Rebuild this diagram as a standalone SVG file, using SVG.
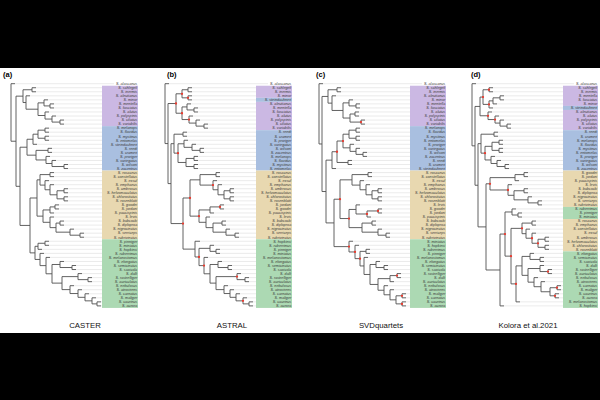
<svg xmlns="http://www.w3.org/2000/svg" xmlns:xlink="http://www.w3.org/1999/xlink" width="600" height="400" viewBox="0 0 600 400">
<style>
.tr{fill:none;stroke:#505050;stroke-width:0.9;vector-effect:non-scaling-stroke}
.ld{fill:none;stroke:#d2d2d2;stroke-width:0.45;vector-effect:non-scaling-stroke}
.pu{fill:#cbb8e3}.bl{fill:#a9bfe0}.ta{fill:#e8d8b0}.gr{fill:#acd9b3}
.lab{font-family:"Liberation Sans",Arial,sans-serif;font-size:3.7px;font-style:italic;fill:#3a3a3a;text-anchor:end}
.pl{font-family:"Liberation Sans",Arial,sans-serif;font-size:7.5px;font-weight:bold;fill:#000}
.cap{font-family:"Liberation Sans",Arial,sans-serif;font-size:7.8px;fill:#111;text-anchor:middle}
</style>
<defs><ellipse id="rd" rx="1.15" ry="0.285" fill="#ea3a2e"/></defs>
<rect width="600" height="400" fill="#000"/>
<rect x="0" y="68" width="600" height="265" fill="#fff"/>

<g id="panel-a">
<text class="pl" x="3" y="76.5">(a)</text>
<g transform="translate(0 83.7) scale(1 4.04)">
<g id="a-boxes"><rect class="pu" x="102" y="0.5" width="36" height="10"/><rect class="bl" x="102" y="10.5" width="36" height="11"/><rect class="ta" x="102" y="21.5" width="36" height="17"/><rect class="gr" x="102" y="38.5" width="36" height="17"/></g>
<path class="ld" d="M15 0H114M36 1H102M36 2H102M30 3H102M48 4H102M54 5H102M54 6H102M49 7H102M56 8H102M64 9H102M64 10H102M49 11H102M49 12H102M49 13H102M49 14H102M37 15H102M52 16H102M52 17H102M50 18H102M56 19H102M68 20H102M68 21H102M54 22H102M54 23H102M49 24H102M54 25H102M68 26H102M68 27H102M68 28H102M68 29H102M59 30H102M59 31H102M54 32H102M54 33H102M64 34H102M64 35H102M74 36H102M84 37H102M84 38H102M49 39H102M49 40H102M42 41H102M44 42H102M50 43H102M64 44H102M76 45H102M76 46H102M82 47H102M92 48H102M92 49H102M74 50H102M82 51H102M89 52H102M96 53H102M101 54H102M101 55H102"/>
<g id="a-connectors"><path class="tr" d="M15 0H11V14.24H16M23 3.08H16V25.4H20M27 15.72H20V35.08H30M37 28.29H30V41.875H35M32 1.5H23V4.66H26M36 1H32V2H36M30 3H26V6.31H38M44 4.75H38V7.875H45M48 4H44V5.5H50M54 5H50V6H54M49 7H45V8.75H52M56 8H52V9.5H60M64 9H60V10H64M33 13.75H27V17.69H36M38 12.5H33V15H37M45 11.5H38V13.5H45M49 11H45V12H49M49 13H45V14H49M48 16.5H36V18.875H46M52 16H48V17H52M50 18H46V19.75H52M56 19H52V20.5H64M68 20H64V21H68M40 23.8H37V32.78H43M50 22.5H40V25.1H45M54 22H50V23H54M49 24H45V26.25H50M54 25H50V27.5H57M64 26.5H57V28.5H64M68 26H64V27H68M68 28H64V29H68M50 31.25H43V34.31H50M55 30.5H50V32H54M59 30H55V31H59M54 33H50V35.625H56M60 34.5H56V36.75H70M64 34H60V35H64M74 36H70V37.5H80M84 37H80V38H84M38 40.25H35V43.5H40M45 39.5H38V41H42M49 39H45V40H49M44 42H40V45.03H46M50 43H46V47.05H52M60 44.75H52V49.36H62M64 44H60V45.5H72M76 45H72V46H76M78 47.75H62V50.97H70M82 47H78V48.5H88M92 48H88V49H92M74 50H70V51.94H78M82 51H78V52.875H85M89 52H85V53.75H92M96 53H92V54.5H97M101 54H97V55H101"/></g>
</g>
<text class="lab"><tspan x="137.2" y="85">S. alascanus</tspan><tspan x="137.2" dy="4.04">S. schlegeli</tspan><tspan x="137.2" dy="4.04">S. inermis</tspan><tspan x="137.2" dy="4.04">S. aleutianus</tspan><tspan x="137.2" dy="4.04">S. minor</tspan><tspan x="137.2" dy="4.04">S. mentella</tspan><tspan x="137.2" dy="4.04">S. fasciatus</tspan><tspan x="137.2" dy="4.04">S. alutus</tspan><tspan x="137.2" dy="4.04">S. polyspinis</tspan><tspan x="137.2" dy="4.04">S. ciliatus</tspan><tspan x="137.2" dy="4.04">S. variabilis</tspan><tspan x="137.2" dy="4.04">S. melanops</tspan><tspan x="137.2" dy="4.04">S. flavidus</tspan><tspan x="137.2" dy="4.04">S. mystinus</tspan><tspan x="137.2" dy="4.04">S. entomelas</tspan><tspan x="137.2" dy="4.04">S. steindachneri</tspan><tspan x="137.2" dy="4.04">S. reedi</tspan><tspan x="137.2" dy="4.04">S. crameri</tspan><tspan x="137.2" dy="4.04">S. proriger</tspan><tspan x="137.2" dy="4.04">S. variegatus</tspan><tspan x="137.2" dy="4.04">S. wilsoni</tspan><tspan x="137.2" dy="4.04">S. zacentrus</tspan><tspan x="137.2" dy="4.04">S. rosaceus</tspan><tspan x="137.2" dy="4.04">S. constellatus</tspan><tspan x="137.2" dy="4.04">S. exsul</tspan><tspan x="137.2" dy="4.04">S. emphaeus</tspan><tspan x="137.2" dy="4.04">S. umbrosus</tspan><tspan x="137.2" dy="4.04">S. helvomaculatus</tspan><tspan x="137.2" dy="4.04">S. chlorostictus</tspan><tspan x="137.2" dy="4.04">S. rosenblatti</tspan><tspan x="137.2" dy="4.04">S. goodei</tspan><tspan x="137.2" dy="4.04">S. jordani</tspan><tspan x="137.2" dy="4.04">S. paucispinis</tspan><tspan x="137.2" dy="4.04">S. levis</tspan><tspan x="137.2" dy="4.04">S. babcocki</tspan><tspan x="137.2" dy="4.04">S. diploproa</tspan><tspan x="137.2" dy="4.04">S. nigrocinctus</tspan><tspan x="137.2" dy="4.04">S. serriceps</tspan><tspan x="137.2" dy="4.04">S. rubrivinctus</tspan><tspan x="137.2" dy="4.04">S. pinniger</tspan><tspan x="137.2" dy="4.04">S. miniatus</tspan><tspan x="137.2" dy="4.04">S. hopkinsi</tspan><tspan x="137.2" dy="4.04">S. ruberrimus</tspan><tspan x="137.2" dy="4.04">S. melanostomus</tspan><tspan x="137.2" dy="4.04">S. elongatus</tspan><tspan x="137.2" dy="4.04">S. semicinctus</tspan><tspan x="137.2" dy="4.04">S. saxicola</tspan><tspan x="137.2" dy="4.04">S. dalli</tspan><tspan x="137.2" dy="4.04">S. rastrelliger</tspan><tspan x="137.2" dy="4.04">S. auriculatus</tspan><tspan x="137.2" dy="4.04">S. nebulosus</tspan><tspan x="137.2" dy="4.04">S. atrovirens</tspan><tspan x="137.2" dy="4.04">S. carnatus</tspan><tspan x="137.2" dy="4.04">S. maliger</tspan><tspan x="137.2" dy="4.04">S. caurinus</tspan><tspan x="137.2" dy="4.04">S. aurora</tspan></text>
<text class="cap" x="85" y="328.3">CASTER</text>
</g>

<g id="panel-b">
<text class="pl" x="167" y="76.5">(b)</text>
<g transform="translate(0 83.7) scale(1 4.04)">
<g id="b-boxes"><rect class="pu" x="256" y="0.5" width="36" height="3"/><rect class="bl" x="256" y="3.5" width="36" height="1"/><rect class="pu" x="256" y="4.5" width="36" height="7"/><rect class="bl" x="256" y="11.5" width="36" height="10"/><rect class="ta" x="256" y="21.5" width="36" height="17"/><rect class="gr" x="256" y="38.5" width="36" height="17"/></g>
<path class="ld" d="M169 0H268M192 1H256M192 2H256M192 3H256M192 4H256M191 5H256M198 6H256M198 7H256M193 8H256M200 9H256M208 10H256M208 11H256M187 12H256M187 13H256M188 14H256M196 15H256M204 16H256M204 17H256M198 18H256M198 19H256M198 20H256M198 21H256M220 22H256M220 23H256M217 24H256M222 25H256M234 26H256M234 27H256M234 28H256M234 29H256M224 30H256M224 31H256M214 32H256M210 33H256M226 34H256M226 35H256M230 36H256M239 37H256M239 38H256M200 39H256M214 40H256M220 41H256M220 42H256M208 43H256M222 44H256M232 45H256M232 46H256M241 47H256M249 48H256M249 49H256M228 50H256M234 51H256M240 52H256M247 53H256M253 54H256M253 55H256"/>
<g id="b-connectors"><path class="tr" d="M169 0H165V14.82H168M176 4.905H168V24.73H171M174 14.845H171V34.62H183M183 12.5H174V17.19H178M187 12H183V13H187M184 14.875H178V19.5H186M188 14H184V15.75H192M196 15H192V16.5H200M204 16H200V17H204M194 18.5H186V20.5H194M198 18H194V19H198M198 20H194V21H198M182 2.5H176V7.31H182M188 1.5H182V3.5H188M192 1H188V2H192M192 3H188V4H192M187 5.75H182V8.875H189M191 5H187V6.5H194M198 6H194V7H198M193 8H189V9.75H196M200 9H196V10.5H204M208 10H204V11H208M190 28.29H183V40.945H195M200 23.8H190V32.78H199M216 22.5H200V25.1H213M220 22H216V23H220M217 24H213V26.25H218M222 25H218V27.5H224M230 26.5H224V28.5H230M234 26H230V27H234M234 28H230V29H234M210 31.25H199V34.31H206M220 30.5H210V32H214M224 30H220V31H224M210 33H206V35.625H213M222 34.5H213V36.75H226M226 34H222V35H226M230 36H226V37.5H235M239 37H235V38H239M200 39H195V42.89H199M210 40.75H199V45.03H204M214 40H210V41.5H216M220 41H216V42H220M208 43H204V47.05H210M218 44.75H210V49.36H216M222 44H218V45.5H228M232 45H228V46H232M237 47.75H216V50.97H224M241 47H237V48.5H245M249 48H245V49H249M228 50H224V51.94H230M234 51H230V52.875H236M240 52H236V53.75H243M247 53H243V54.5H249M253 54H249V55H253"/></g>
<g id="b-support"><use href="#rd" x="176" y="4.905"/><use href="#rd" x="182" y="2.5"/><use href="#rd" x="188" y="3.5"/><use href="#rd" x="182" y="7.31"/><use href="#rd" x="189" y="8.875"/><use href="#rd" x="178" y="17.19"/><use href="#rd" x="183" y="34.62"/><use href="#rd" x="190" y="28.29"/><use href="#rd" x="213" y="25.1"/><use href="#rd" x="220" y="30.5"/><use href="#rd" x="199" y="32.78"/><use href="#rd" x="199" y="42.89"/><use href="#rd" x="204" y="45.03"/><use href="#rd" x="237" y="47.75"/><use href="#rd" x="243" y="53.75"/></g>
</g>
<text class="lab"><tspan x="291.2" y="85">S. alascanus</tspan><tspan x="291.2" dy="4.04">S. schlegeli</tspan><tspan x="291.2" dy="4.04">S. inermis</tspan><tspan x="291.2" dy="4.04">S. minor</tspan><tspan x="291.2" dy="4.04">S. steindachneri</tspan><tspan x="291.2" dy="4.04">S. aleutianus</tspan><tspan x="291.2" dy="4.04">S. mentella</tspan><tspan x="291.2" dy="4.04">S. fasciatus</tspan><tspan x="291.2" dy="4.04">S. alutus</tspan><tspan x="291.2" dy="4.04">S. polyspinis</tspan><tspan x="291.2" dy="4.04">S. ciliatus</tspan><tspan x="291.2" dy="4.04">S. variabilis</tspan><tspan x="291.2" dy="4.04">S. reedi</tspan><tspan x="291.2" dy="4.04">S. crameri</tspan><tspan x="291.2" dy="4.04">S. proriger</tspan><tspan x="291.2" dy="4.04">S. variegatus</tspan><tspan x="291.2" dy="4.04">S. wilsoni</tspan><tspan x="291.2" dy="4.04">S. zacentrus</tspan><tspan x="291.2" dy="4.04">S. melanops</tspan><tspan x="291.2" dy="4.04">S. flavidus</tspan><tspan x="291.2" dy="4.04">S. mystinus</tspan><tspan x="291.2" dy="4.04">S. entomelas</tspan><tspan x="291.2" dy="4.04">S. rosaceus</tspan><tspan x="291.2" dy="4.04">S. constellatus</tspan><tspan x="291.2" dy="4.04">S. exsul</tspan><tspan x="291.2" dy="4.04">S. emphaeus</tspan><tspan x="291.2" dy="4.04">S. umbrosus</tspan><tspan x="291.2" dy="4.04">S. helvomaculatus</tspan><tspan x="291.2" dy="4.04">S. chlorostictus</tspan><tspan x="291.2" dy="4.04">S. rosenblatti</tspan><tspan x="291.2" dy="4.04">S. jordani</tspan><tspan x="291.2" dy="4.04">S. goodei</tspan><tspan x="291.2" dy="4.04">S. paucispinis</tspan><tspan x="291.2" dy="4.04">S. levis</tspan><tspan x="291.2" dy="4.04">S. babcocki</tspan><tspan x="291.2" dy="4.04">S. diploproa</tspan><tspan x="291.2" dy="4.04">S. nigrocinctus</tspan><tspan x="291.2" dy="4.04">S. serriceps</tspan><tspan x="291.2" dy="4.04">S. rubrivinctus</tspan><tspan x="291.2" dy="4.04">S. hopkinsi</tspan><tspan x="291.2" dy="4.04">S. ruberrimus</tspan><tspan x="291.2" dy="4.04">S. pinniger</tspan><tspan x="291.2" dy="4.04">S. miniatus</tspan><tspan x="291.2" dy="4.04">S. melanostomus</tspan><tspan x="291.2" dy="4.04">S. elongatus</tspan><tspan x="291.2" dy="4.04">S. semicinctus</tspan><tspan x="291.2" dy="4.04">S. saxicola</tspan><tspan x="291.2" dy="4.04">S. dalli</tspan><tspan x="291.2" dy="4.04">S. rastrelliger</tspan><tspan x="291.2" dy="4.04">S. auriculatus</tspan><tspan x="291.2" dy="4.04">S. nebulosus</tspan><tspan x="291.2" dy="4.04">S. atrovirens</tspan><tspan x="291.2" dy="4.04">S. carnatus</tspan><tspan x="291.2" dy="4.04">S. maliger</tspan><tspan x="291.2" dy="4.04">S. caurinus</tspan><tspan x="291.2" dy="4.04">S. aurora</tspan></text>
<text class="cap" x="232" y="328.3">ASTRAL</text>
</g>

<g id="panel-c">
<text class="pl" x="316" y="76.5">(c)</text>
<g transform="translate(0 83.7) scale(1 4.04)">
<g id="c-boxes"><rect class="pu" x="410" y="0.5" width="36" height="10"/><rect class="bl" x="410" y="10.5" width="36" height="11"/><rect class="ta" x="410" y="21.5" width="36" height="17"/><rect class="gr" x="410" y="38.5" width="36" height="17"/></g>
<path class="ld" d="M323 0H422M341 1H410M341 2H410M336 3H410M353 4H410M360 5H410M360 6H410M359 7H410M359 8H410M365 9H410M365 10H410M360 11H410M360 12H410M360 13H410M360 14H410M354 15H410M360 16H410M367 17H410M367 18H410M352 19H410M352 20H410M336 21H410M372 22H410M372 23H410M364 24H410M370 25H410M382 26H410M382 27H410M382 28H410M382 29H410M360 30H410M382 31H410M382 32H410M371 33H410M376 34H410M376 35H410M382 36H410M390 37H410M390 38H410M353 39H410M359 40H410M370 41H410M370 42H410M368 43H410M380 44H410M388 45H410M388 46H410M401 47H410M401 48H410M394 49H410M388 50H410M394 51H410M406 52H410M406 53H410M406 54H410M406 55H410"/>
<g id="c-connectors"><path class="tr" d="M323 0H319V14.92H322M328 3.155H322V26.69H326M332 18.92H326V34.46H334M337 1.5H328V4.81H332M341 1H337V2H341M336 3H332V6.625H343M349 4.75H343V8.5H350M353 4H349V5.5H356M360 5H356V6H360M355 7.5H350V9.5H361M359 7H355V8H359M365 9H361V10H365M337 16.84H332V21H336M343 14.19H337V19.5H348M352 19H348V20H352M349 12.5H343V15.875H350M356 11.5H349V13.5H356M360 11H356V12H360M360 13H356V14H360M354 15H350V16.75H356M360 16H356V17.5H363M367 17H363V18H367M340 28.59H334V40.325H349M352 23.8H340V33.375H349M368 22.5H352V25.1H360M372 22H368V23H372M364 24H360V26.25H366M370 25H366V27.5H372M378 26.5H372V28.5H378M382 26H378V27H382M382 28H378V29H382M356 31.125H349V35.625H362M360 30H356V32.25H367M378 31.5H367V33H371M382 31H378V32H382M372 34.5H362V36.75H378M376 34H372V35H376M382 36H378V37.5H386M390 37H386V38H390M353 39H349V41.65H355M359 40H355V43.3H360M366 41.5H360V45.11H364M370 41H366V42H370M368 43H364V47.22H370M376 44.75H370V49.69H378M380 44H376V45.5H384M388 45H384V46H388M390 48.25H378V51.125H384M397 47.5H390V49H394M401 47H397V48H401M388 50H384V52.25H390M394 51H390V53.5H396M402 52.5H396V54.5H402M406 52H402V53H406M406 54H402V55H406"/></g>
<g id="c-support"><use href="#rd" x="361" y="9.5"/><use href="#rd" x="343" y="14.19"/><use href="#rd" x="337" y="16.84"/><use href="#rd" x="340" y="28.59"/><use href="#rd" x="349" y="33.375"/><use href="#rd" x="367" y="32.25"/><use href="#rd" x="378" y="31.5"/><use href="#rd" x="349" y="40.325"/><use href="#rd" x="355" y="41.65"/><use href="#rd" x="360" y="43.3"/><use href="#rd" x="397" y="47.5"/><use href="#rd" x="402" y="52.5"/><use href="#rd" x="402" y="54.5"/></g>
</g>
<text class="lab"><tspan x="445.2" y="85">S. alascanus</tspan><tspan x="445.2" dy="4.04">S. schlegeli</tspan><tspan x="445.2" dy="4.04">S. inermis</tspan><tspan x="445.2" dy="4.04">S. aleutianus</tspan><tspan x="445.2" dy="4.04">S. minor</tspan><tspan x="445.2" dy="4.04">S. mentella</tspan><tspan x="445.2" dy="4.04">S. fasciatus</tspan><tspan x="445.2" dy="4.04">S. alutus</tspan><tspan x="445.2" dy="4.04">S. polyspinis</tspan><tspan x="445.2" dy="4.04">S. ciliatus</tspan><tspan x="445.2" dy="4.04">S. variabilis</tspan><tspan x="445.2" dy="4.04">S. melanops</tspan><tspan x="445.2" dy="4.04">S. flavidus</tspan><tspan x="445.2" dy="4.04">S. mystinus</tspan><tspan x="445.2" dy="4.04">S. entomelas</tspan><tspan x="445.2" dy="4.04">S. proriger</tspan><tspan x="445.2" dy="4.04">S. variegatus</tspan><tspan x="445.2" dy="4.04">S. wilsoni</tspan><tspan x="445.2" dy="4.04">S. zacentrus</tspan><tspan x="445.2" dy="4.04">S. reedi</tspan><tspan x="445.2" dy="4.04">S. crameri</tspan><tspan x="445.2" dy="4.04">S. steindachneri</tspan><tspan x="445.2" dy="4.04">S. rosaceus</tspan><tspan x="445.2" dy="4.04">S. constellatus</tspan><tspan x="445.2" dy="4.04">S. exsul</tspan><tspan x="445.2" dy="4.04">S. emphaeus</tspan><tspan x="445.2" dy="4.04">S. umbrosus</tspan><tspan x="445.2" dy="4.04">S. helvomaculatus</tspan><tspan x="445.2" dy="4.04">S. chlorostictus</tspan><tspan x="445.2" dy="4.04">S. rosenblatti</tspan><tspan x="445.2" dy="4.04">S. levis</tspan><tspan x="445.2" dy="4.04">S. goodei</tspan><tspan x="445.2" dy="4.04">S. jordani</tspan><tspan x="445.2" dy="4.04">S. paucispinis</tspan><tspan x="445.2" dy="4.04">S. babcocki</tspan><tspan x="445.2" dy="4.04">S. diploproa</tspan><tspan x="445.2" dy="4.04">S. nigrocinctus</tspan><tspan x="445.2" dy="4.04">S. serriceps</tspan><tspan x="445.2" dy="4.04">S. rubrivinctus</tspan><tspan x="445.2" dy="4.04">S. miniatus</tspan><tspan x="445.2" dy="4.04">S. hopkinsi</tspan><tspan x="445.2" dy="4.04">S. ruberrimus</tspan><tspan x="445.2" dy="4.04">S. pinniger</tspan><tspan x="445.2" dy="4.04">S. melanostomus</tspan><tspan x="445.2" dy="4.04">S. elongatus</tspan><tspan x="445.2" dy="4.04">S. semicinctus</tspan><tspan x="445.2" dy="4.04">S. saxicola</tspan><tspan x="445.2" dy="4.04">S. rastrelliger</tspan><tspan x="445.2" dy="4.04">S. dalli</tspan><tspan x="445.2" dy="4.04">S. auriculatus</tspan><tspan x="445.2" dy="4.04">S. nebulosus</tspan><tspan x="445.2" dy="4.04">S. atrovirens</tspan><tspan x="445.2" dy="4.04">S. maliger</tspan><tspan x="445.2" dy="4.04">S. carnatus</tspan><tspan x="445.2" dy="4.04">S. caurinus</tspan><tspan x="445.2" dy="4.04">S. aurora</tspan></text>
<text class="cap" x="381" y="328.3">SVDquartets</text>
</g>

<g id="panel-d">
<text class="pl" x="471" y="76.5">(d)</text>
<g transform="translate(0 83.7) scale(1 4.04)">
<g id="d-boxes"><rect class="pu" x="563" y="0.5" width="35" height="5"/><rect class="bl" x="563" y="5.5" width="35" height="1"/><rect class="pu" x="563" y="6.5" width="35" height="5"/><rect class="bl" x="563" y="11.5" width="35" height="10"/><rect class="ta" x="563" y="21.5" width="35" height="9"/><rect class="gr" x="563" y="30.5" width="35" height="3"/><rect class="ta" x="563" y="33.5" width="35" height="8"/><rect class="gr" x="563" y="41.5" width="35" height="14"/></g>
<path class="ld" d="M476 0H574M493 1H563M493 2H563M504 3H563M504 4H563M497 5H563M493 6H563M492 7H563M499 8H563M504 9H563M511 10H563M511 11H563M498 12H563M498 13H563M503 14H563M503 15H563M503 16H563M503 17H563M495 18H563M501 19H563M509 20H563M509 21H563M528 22H563M528 23H563M519 24H563M512 25H563M528 26H563M528 27H563M532 28H563M542 29H563M542 30H563M516 31H563M522 32H563M522 33H563M536 34H563M536 35H563M530 36H563M536 37H563M549 38H563M549 39H563M549 40H563M549 41H563M534 42H563M544 43H563M544 44H563M544 45H563M552 46H563M552 47H563M538 48H563M545 49H563M561 50H563M561 51H563M559 52H563M559 53H563M520 54H563M504 55H563"/>
<g id="d-connectors"><path class="tr" d="M476 0H472V15.38H475M480 5.625H475V25.14H478M481 14.84H478V35.445H486M483 3.31H480V7.94H488M489 1.5H483V5.125H489M493 1H489V2H493M493 4.25H489V6H493M500 3.5H493V5H497M504 3H500V4H504M492 7H488V8.875H495M499 8H495V9.75H500M504 9H500V10.5H507M511 10H507V11H511M494 12.5H481V17.19H485M498 12H494V13H498M492 15.5H485V18.875H491M499 14.5H492V16.5H499M503 14H499V15H503M503 16H499V17H503M495 18H491V19.75H497M501 19H497V20.5H505M509 20H505V21H509M490 24.78H486V46.11H500M515 23.25H490V26.31H508M524 22.5H515V24H519M528 22H524V23H528M512 25H508V27.625H514M524 26.5H514V28.75H528M528 26H524V27H528M532 28H528V29.5H538M542 29H538V30H542M505 37.215H500V55H504M512 31.75H505V42.68H511M516 31H512V32.5H518M522 32H518V33H522M522 35.81H511V49.55H516M532 34.5H522V37.125H526M536 34H532V35H536M530 36H526V38.25H532M536 37H532V39.5H538M545 38.5H538V40.5H545M549 38H545V39H549M549 40H545V41H549M522 45.095H516V54H520M530 42.75H522V47.44H528M534 42H530V43.5H540M544 43H540V44H544M540 45.75H528V49.125H534M544 45H540V46.5H548M552 46H548V47H552M538 48H534V50.25H541M545 49H541V51.5H550M557 50.5H550V52.5H555M561 50H557V51H561M559 52H555V53H559"/></g>
<g id="d-support"><use href="#rd" x="483" y="3.31"/><use href="#rd" x="488" y="7.94"/><use href="#rd" x="489" y="1.5"/><use href="#rd" x="489" y="5.125"/><use href="#rd" x="495" y="8.875"/><use href="#rd" x="485" y="17.19"/><use href="#rd" x="490" y="24.78"/><use href="#rd" x="508" y="26.31"/><use href="#rd" x="505" y="37.215"/><use href="#rd" x="511" y="42.68"/><use href="#rd" x="522" y="35.81"/><use href="#rd" x="516" y="49.55"/><use href="#rd" x="532" y="38.25"/><use href="#rd" x="538" y="39.5"/><use href="#rd" x="548" y="46.5"/><use href="#rd" x="557" y="50.5"/><use href="#rd" x="555" y="52.5"/></g>
</g>
<text class="lab"><tspan x="597.2" y="85">S. alascanus</tspan><tspan x="597.2" dy="4.04">S. schlegeli</tspan><tspan x="597.2" dy="4.04">S. inermis</tspan><tspan x="597.2" dy="4.04">S. mentella</tspan><tspan x="597.2" dy="4.04">S. fasciatus</tspan><tspan x="597.2" dy="4.04">S. minor</tspan><tspan x="597.2" dy="4.04">S. steindachneri</tspan><tspan x="597.2" dy="4.04">S. aleutianus</tspan><tspan x="597.2" dy="4.04">S. alutus</tspan><tspan x="597.2" dy="4.04">S. polyspinis</tspan><tspan x="597.2" dy="4.04">S. ciliatus</tspan><tspan x="597.2" dy="4.04">S. variabilis</tspan><tspan x="597.2" dy="4.04">S. reedi</tspan><tspan x="597.2" dy="4.04">S. crameri</tspan><tspan x="597.2" dy="4.04">S. melanops</tspan><tspan x="597.2" dy="4.04">S. flavidus</tspan><tspan x="597.2" dy="4.04">S. mystinus</tspan><tspan x="597.2" dy="4.04">S. entomelas</tspan><tspan x="597.2" dy="4.04">S. proriger</tspan><tspan x="597.2" dy="4.04">S. variegatus</tspan><tspan x="597.2" dy="4.04">S. wilsoni</tspan><tspan x="597.2" dy="4.04">S. zacentrus</tspan><tspan x="597.2" dy="4.04">S. goodei</tspan><tspan x="597.2" dy="4.04">S. jordani</tspan><tspan x="597.2" dy="4.04">S. paucispinis</tspan><tspan x="597.2" dy="4.04">S. levis</tspan><tspan x="597.2" dy="4.04">S. babcocki</tspan><tspan x="597.2" dy="4.04">S. diploproa</tspan><tspan x="597.2" dy="4.04">S. nigrocinctus</tspan><tspan x="597.2" dy="4.04">S. serriceps</tspan><tspan x="597.2" dy="4.04">S. rubrivinctus</tspan><tspan x="597.2" dy="4.04">S. ruberrimus</tspan><tspan x="597.2" dy="4.04">S. pinniger</tspan><tspan x="597.2" dy="4.04">S. miniatus</tspan><tspan x="597.2" dy="4.04">S. rosaceus</tspan><tspan x="597.2" dy="4.04">S. emphaeus</tspan><tspan x="597.2" dy="4.04">S. constellatus</tspan><tspan x="597.2" dy="4.04">S. exsul</tspan><tspan x="597.2" dy="4.04">S. umbrosus</tspan><tspan x="597.2" dy="4.04">S. helvomaculatus</tspan><tspan x="597.2" dy="4.04">S. chlorostictus</tspan><tspan x="597.2" dy="4.04">S. rosenblatti</tspan><tspan x="597.2" dy="4.04">S. elongatus</tspan><tspan x="597.2" dy="4.04">S. semicinctus</tspan><tspan x="597.2" dy="4.04">S. saxicola</tspan><tspan x="597.2" dy="4.04">S. dalli</tspan><tspan x="597.2" dy="4.04">S. rastrelliger</tspan><tspan x="597.2" dy="4.04">S. auriculatus</tspan><tspan x="597.2" dy="4.04">S. nebulosus</tspan><tspan x="597.2" dy="4.04">S. atrovirens</tspan><tspan x="597.2" dy="4.04">S. carnatus</tspan><tspan x="597.2" dy="4.04">S. maliger</tspan><tspan x="597.2" dy="4.04">S. caurinus</tspan><tspan x="597.2" dy="4.04">S. aurora</tspan><tspan x="597.2" dy="4.04">S. melanostomus</tspan><tspan x="597.2" dy="4.04">S. hopkinsi</tspan></text>
<text class="cap" x="528" y="328.3">Kolora et al.2021</text>
</g>
</svg>
